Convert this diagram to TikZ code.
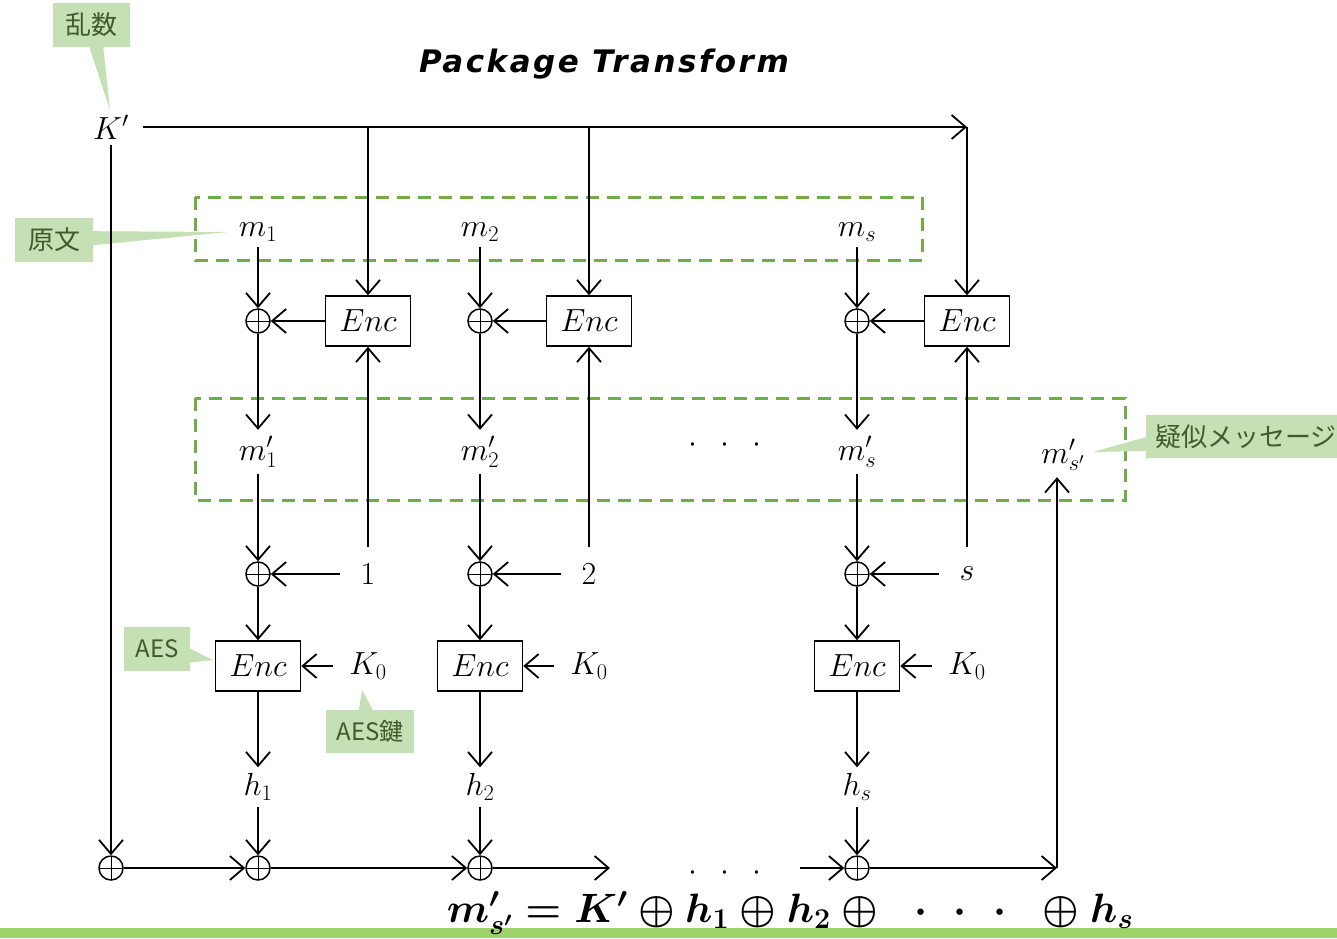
\RequirePackage{fix-cm}
\documentclass[tikz,border=0pt]{standalone}
\usepackage{fontspec}
\newfontfamily\jpfont{Noto Sans CJK JP}
\newfontfamily\ttlfont[LetterSpace=8]{DejaVu Sans}
\usetikzlibrary{arrows.meta,shapes.callouts}

\definecolor{dashgreen}{HTML}{70AD47}
\definecolor{callfill}{HTML}{C5E0B4}
\definecolor{calltext}{HTML}{3E5C2B}
\definecolor{barfill}{HTML}{9ED36A}

\newcommand\sumformula{$m'_{s'} = K' \oplus h_1 \oplus h_2 \oplus
  \mkern10mu{\cdot}\mkern10mu{\cdot}\mkern10mu{\cdot}\mkern10mu \oplus h_s$}
\newcommand\threedots{${\cdot}\mkern13mu{\cdot}\mkern13mu{\cdot}$}

\tikzset{
  arr/.style={-{Straight Barb[length=14pt,width=24pt]}, line width=1.8pt},
  encbox/.style={draw, line width=1.5pt, minimum width=85, minimum height=50,
    inner sep=0, font=\fontsize{32}{38}\selectfont},
  xorop/.style={circle, draw, line width=1.5pt, minimum size=24, inner sep=0,
    path picture={\draw[line width=1pt]
      (path picture bounding box.north) -- (path picture bounding box.south)
      (path picture bounding box.west) -- (path picture bounding box.east);}},
  var/.style={inner sep=6pt, font=\fontsize{32}{38}\selectfont},
  num/.style={minimum width=56, minimum height=54, inner sep=0,
    font=\fontsize{32}{38}\selectfont},
  kzero/.style={minimum width=70, inner sep=0, font=\fontsize{32}{38}\selectfont},
  grbox/.style={draw=dashgreen, line width=3pt, dash pattern=on 13pt off 8pt},
  jpnote/.style={rectangle callout, fill=callfill, text=calltext, inner sep=0,
    callout pointer width=14pt, font=\jpfont\fontsize{26}{30}\selectfont},
}

\begin{document}
\begin{tikzpicture}[x=1pt,y=-1pt]
  \useasboundingbox (0,0) rectangle (1337,938);

  % title and bottom bar
  \node[font=\ttlfont\bfseries\itshape\fontsize{31}{36}\selectfont] (ttl) at (604,64) {Package Transform};
  \fill[barfill] (0,928) rectangle (1337,938);

  % dashed groups
  \draw[grbox] (195,197) rectangle (922,260);
  \draw[grbox] (195,398) rectangle (1125,500);

  % notes
  \node[jpnote, minimum width=77, minimum height=44,
    callout absolute pointer={(110,110)}] (cRan) at (91.5,25) {乱数};
  \node[jpnote, minimum width=78, minimum height=44,
    callout absolute pointer={(228,232)}] (cGen) at (54,240) {原文};
  \node[jpnote, minimum width=200, minimum height=43, anchor=west,
    callout absolute pointer={(1093,452)}] (cGiji) at (1146,436.5) {疑似メッセージ};
  \node[jpnote, minimum width=66, minimum height=44,
    font=\jpfont\fontsize{24}{28}\selectfont,
    callout absolute pointer={(213,660)}] (cAes) at (157,649) {AES};
  \node[jpnote, minimum width=88, minimum height=43,
    font=\jpfont\fontsize{24}{28}\selectfont,
    callout absolute pointer={(362,690)}] (cKey) at (370,731.5) {AES鍵};

  % key and last block
  \node[var, inner xsep=14pt] (Kp) at (111,127) {$K'$};
  \node[var] (mpx) at (1063,455) {$m'_{s'}$};
  \node[xorop] (xc0) at (111,868) {};
  \node[var] (dtsA) at (725,445) {\threedots};
  \node[var] (dtsB) at (725,873) {\threedots};
  \coordinate (fe1) at (610,868);
  \coordinate (fe2) at (800,868);
  \coordinate (cB) at (1057,868);

  \foreach \i/\x/\e in {1/258/368, 2/480/589, s/857/967} {
    \node[var] (m\i) at (\x,232) {$m_{\i}$};
    \node[xorop] (xa\i) at (\x,321) {};
    \node[encbox] (ea\i) at (\e,321) {$Enc$};
    \node[var] (mp\i) at (\x,452) {$m'_{\i}$};
    \node[xorop] (xb\i) at (\x,574) {};
    \node[num] (n\i) at (\e,574) {$\i$};
    \node[encbox] (eb\i) at (\x,666) {$Enc$};
    \node[kzero] (k\i) at (\e,666) {$K_0$};
    \node[var] (h\i) at (\x,787) {$h_{\i}$};
    \node[xorop] (xc\i) at (\x,868) {};

    \draw[arr] (ea\i |- Kp) -- (ea\i);
    \draw[arr] (m\i) -- (xa\i);
    \draw[arr] (ea\i) -- (xa\i);
    \draw[arr] (xa\i) -- (mp\i);
    \draw[arr] (mp\i) -- (xb\i);
    \draw[arr] (n\i) -- (xb\i);
    \draw[arr] (n\i) -- (ea\i);
    \draw[arr] (xb\i) -- (eb\i);
    \draw[arr] (k\i) -- (eb\i);
    \draw[arr] (eb\i) -- (h\i);
    \draw[arr] (h\i) -- (xc\i);
  }

  \draw[arr] (Kp) -- (eas |- Kp);
  \draw[arr] (Kp) -- (xc0);
  \draw[arr] (xc0) -- (xc1);
  \draw[arr] (xc1) -- (xc2);
  \draw[arr] (xc2) -- (fe1);
  \draw[arr] (fe2) -- (xcs);
  \draw[arr] (xcs) -- (cB);
  \draw[arr] (cB) -- (cB |- mpx.south);

  % sum
  \node[font=\fontsize{41}{48}\selectfont\boldmath, anchor=base] (sum) at (790,922) {\sumformula};
\end{tikzpicture}
\end{document}
